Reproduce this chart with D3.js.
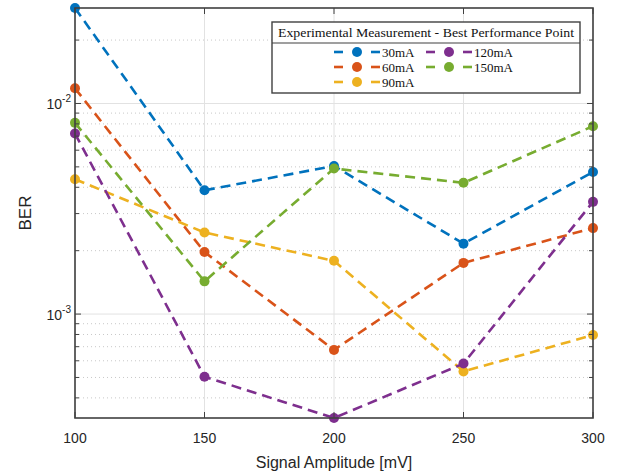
<!DOCTYPE html>
<html>
<head>
<meta charset="utf-8">
<script src="https://cdn.jsdelivr.net/npm/d3@7"></script>
<style>
  html, body { margin: 0; padding: 0; background: #fff; }
  svg { display: block; }
</style>
</head>
<body>
<svg id="chart" width="624" height="472"></svg>
<script>
// Signal amplitude sweep (mV) and measured BER per bias current
const amplitudes = [100, 150, 200, 250, 300];
const seriesNames = ["30mA", "60mA", "90mA", "120mA", "150mA"];
const ber30  = [0.0284, 0.00387, 0.00505, 0.00216, 0.00473];
const ber60  = [0.0118, 0.00197, 0.000676, 0.00175, 0.00256];
const ber90  = [0.00437, 0.00244, 0.00179, 0.000534, 0.000795];
const ber120 = [0.0072, 0.000504, 0.000321, 0.000582, 0.00341];
const ber150 = [0.00809, 0.00143, 0.00491, 0.0042, 0.0078];
const seriesColors = ["#0072BD", "#D95319", "#EDB120", "#7E2F8E", "#77AC30"];
const xTicks = [100, 150, 200, 250, 300];
const yMajorTicks = [1e-3, 1e-2];
const legendTitle = "Experimental Measurement - Best Performance Point";

const series = [ber30, ber60, ber90, ber120, ber150].map((vals, i) => ({
  name: seriesNames[i], color: seriesColors[i],
  points: vals.map((v, j) => ({ x: amplitudes[j], y: v }))
}));

const svg = d3.select("#chart");
const margin = { left: 75, right: 31, top: 8, bottom: 54 };
const W = 624, H = 472;
const pw = W - margin.left - margin.right;
const ph = H - margin.top - margin.bottom;

const allVals = [].concat(ber30, ber60, ber90, ber120, ber150);
const x = d3.scaleLinear().domain(d3.extent(amplitudes)).range([0, pw]);
const y = d3.scaleLog().domain(d3.extent(allVals)).range([ph, 0]);

const g = svg.append("g").attr("transform", `translate(${margin.left},${margin.top})`);

// minor log ticks (2..9 x 10^k) inside the domain
const [y0, y1] = y.domain();
const minorTicks = [];
for (let e = -5; e <= 0; e++) {
  for (let m = 2; m <= 9; m++) {
    const v = m * Math.pow(10, e);
    if (v >= y0 && v <= y1) minorTicks.push(v);
  }
}

// grid
const grid = g.append("g");
grid.selectAll(".ymin").data(minorTicks).enter().append("line")
  .attr("x1", 0).attr("x2", pw)
  .attr("y1", d => y(d)).attr("y2", d => y(d))
  .attr("stroke", "#c8c8c8").attr("stroke-width", 1)
  .attr("stroke-dasharray", "1,3");
grid.selectAll(".ymaj").data(yMajorTicks).enter().append("line")
  .attr("x1", 0).attr("x2", pw)
  .attr("y1", d => y(d)).attr("y2", d => y(d))
  .attr("stroke", "#e2e2e2").attr("stroke-width", 1);
grid.selectAll(".xmaj").data(xTicks).enter().append("line")
  .attr("y1", 0).attr("y2", ph)
  .attr("x1", d => x(d)).attr("x2", d => x(d))
  .attr("stroke", "#e2e2e2").attr("stroke-width", 1);

// series lines and markers
const line = d3.line().x(d => x(d.x)).y(d => y(d.y));
const sg = g.append("g");
series.forEach(s => {
  sg.append("path").datum(s.points)
    .attr("d", line).attr("fill", "none")
    .attr("stroke", s.color).attr("stroke-width", 2.6)
    .attr("stroke-dasharray", "10,6");
});
series.forEach(s => {
  sg.selectAll(null).data(s.points).enter().append("circle")
    .attr("cx", d => x(d.x)).attr("cy", d => y(d.y)).attr("r", 5)
    .attr("fill", s.color);
});

// axes with inward ticks on all four sides
const axisColor = "#404040";
const axes = g.append("g");
const tickLen = 6, minorLen = 4;
function ticksX(yPos, dir) {
  axes.selectAll(null).data(xTicks).enter().append("line")
    .attr("x1", d => x(d)).attr("x2", d => x(d))
    .attr("y1", yPos).attr("y2", yPos + dir * tickLen)
    .attr("stroke", axisColor).attr("stroke-width", 1);
}
function ticksY(xPos, dir) {
  axes.selectAll(null).data(yMajorTicks).enter().append("line")
    .attr("y1", d => y(d)).attr("y2", d => y(d))
    .attr("x1", xPos).attr("x2", xPos + dir * tickLen)
    .attr("stroke", axisColor).attr("stroke-width", 1);
  axes.selectAll(null).data(minorTicks).enter().append("line")
    .attr("y1", d => y(d)).attr("y2", d => y(d))
    .attr("x1", xPos).attr("x2", xPos + dir * minorLen)
    .attr("stroke", axisColor).attr("stroke-width", 1);
}
ticksX(ph, -1); ticksX(0, 1);
ticksY(0, 1); ticksY(pw, -1);
axes.append("rect").attr("x", 0).attr("y", 0).attr("width", pw).attr("height", ph)
  .attr("fill", "none").attr("stroke", axisColor).attr("stroke-width", 1.6);

// tick labels
const font = "'Liberation Sans', Arial, sans-serif";
const lab = g.append("g").attr("font-family", font).attr("fill", "#262626");
lab.selectAll(null).data(xTicks).enter().append("text")
  .attr("x", d => x(d)).attr("y", ph + 25)
  .attr("text-anchor", "middle").attr("font-size", 14).attr("fill", "#262626")
  .text(d => d);
yMajorTicks.forEach(v => {
  const t = lab.append("text")
    .attr("x", -4).attr("y", y(v) + 6)
    .attr("text-anchor", "end").attr("font-size", 14).attr("fill", "#262626");
  t.append("tspan").text("10");
  t.append("tspan").attr("dy", -7).attr("font-size", 10).text(String(Math.round(Math.log10(v))).replace("-", "-"));
});

// axis titles
svg.append("text")
  .attr("x", margin.left + pw / 2).attr("y", 468)
  .attr("text-anchor", "middle").attr("font-family", font)
  .attr("font-size", 16).attr("fill", "#262626")
  .text("Signal Amplitude [mV]");
svg.append("text")
  .attr("transform", `translate(31,${margin.top + ph / 2}) rotate(-90)`)
  .attr("text-anchor", "middle").attr("font-family", font)
  .attr("font-size", 17).attr("fill", "#262626")
  .text("BER");

// legend
const lgX = 272, lgY = 22, lgW = 308, lgH = 71;
const lg = svg.append("g");
lg.append("rect").attr("x", lgX).attr("y", lgY).attr("width", lgW).attr("height", lgH)
  .attr("fill", "#fff").attr("stroke", "#404040").attr("stroke-width", 1.4);
lg.append("line").attr("x1", lgX).attr("x2", lgX + lgW).attr("y1", lgY + 21).attr("y2", lgY + 21)
  .attr("stroke", "#404040").attr("stroke-width", 1.2);
lg.append("text").attr("x", lgX + lgW / 2).attr("y", lgY + 15)
  .attr("text-anchor", "middle")
  .attr("font-family", "'Liberation Serif', 'DejaVu Serif', serif")
  .attr("font-size", 13).attr("fill", "#111")
  .attr("textLength", 296).attr("lengthAdjust", "spacingAndGlyphs")
  .text(legendTitle);

const cols = [334, 426];
const rows = [52, 67, 82];
series.forEach((s, i) => {
  const cx = cols[i < 3 ? 0 : 1];
  const cy = rows[i < 3 ? i : i - 3];
  const e = lg.append("g");
  e.append("line").attr("x1", cx).attr("x2", cx + 9).attr("y1", cy).attr("y2", cy)
    .attr("stroke", s.color).attr("stroke-width", 2.6);
  e.append("line").attr("x1", cx + 37).attr("x2", cx + 46).attr("y1", cy).attr("y2", cy)
    .attr("stroke", s.color).attr("stroke-width", 2.6);
  e.append("circle").attr("cx", cx + 23).attr("cy", cy).attr("r", 5).attr("fill", s.color);
  e.append("text").attr("x", cx + 48).attr("y", cy + 4.5)
    .attr("font-family", "'Liberation Serif', 'DejaVu Serif', serif")
    .attr("font-size", 13).attr("fill", "#111")
    .text(s.name);
});
</script>
</body>
</html>
